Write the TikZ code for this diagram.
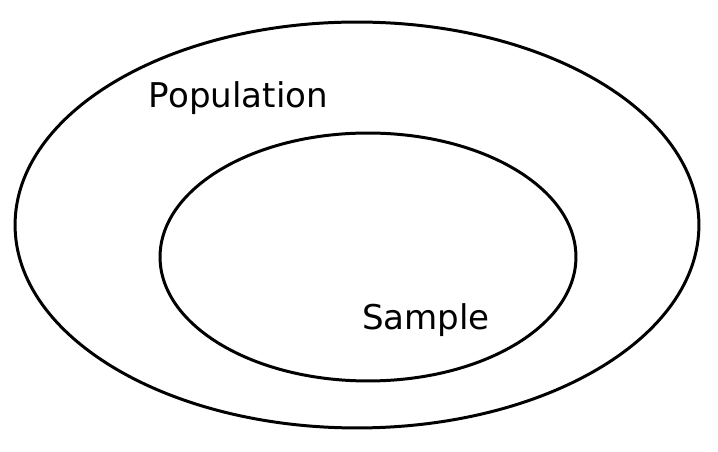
\documentclass[tikz,border=0pt]{standalone}
\usepackage{fontspec}
\setmainfont{DejaVu Sans}
\usetikzlibrary{shapes.geometric}
\tikzstyle{set} = [ellipse, draw=black, line width=1.7pt, inner sep=0pt]
\tikzstyle{setlabel} = [font=\fontsize{19.4}{22}\selectfont, inner sep=0pt]

\begin{document}
\begin{tikzpicture}[x=0.02cm, y=-0.02cm]
\useasboundingbox (0,0) rectangle (718,452);

% Ensembles
\node (popset) [set, minimum width=13.68cm, minimum height=8.12cm] at (357,225) {};
\node (sampleset) [set, minimum width=8.32cm, minimum height=4.96cm] at (368,257) {};

% Labels
\node (population) [setlabel] at (238.5,98) {Population};
\node (sample) [setlabel] at (426,320) {Sample};

\end{tikzpicture}
\end{document}
